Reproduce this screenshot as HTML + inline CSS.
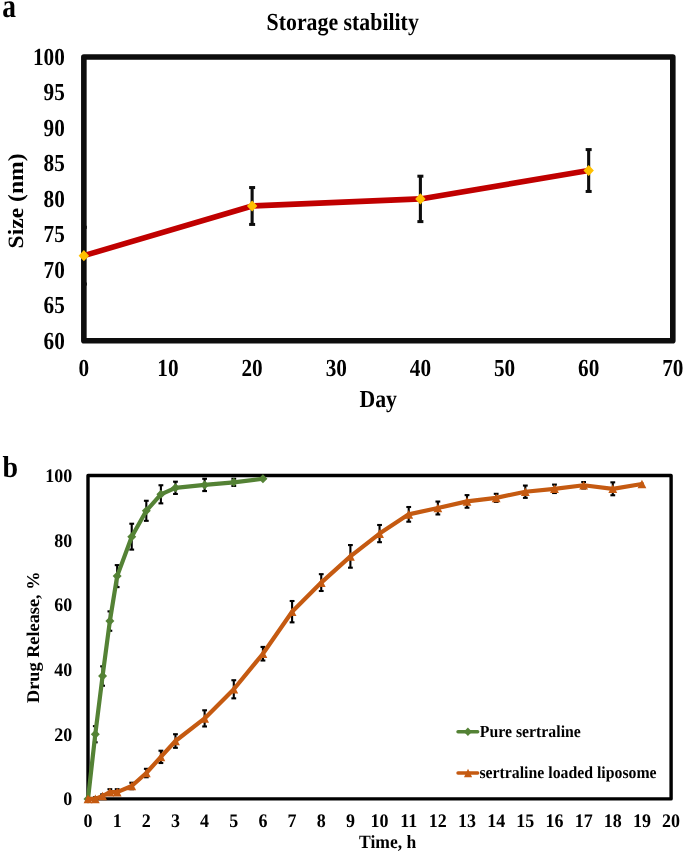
<!DOCTYPE html>
<html><head><meta charset="utf-8"><style>
html,body{margin:0;padding:0;background:#fff;width:685px;height:854px;overflow:hidden}
svg{display:block;will-change:transform}
.a{font-family:"Liberation Serif",serif;font-weight:bold;fill:#000;text-rendering:geometricPrecision}
</style></head><body>
<svg width="685" height="854" viewBox="0 0 685 854">
<rect x="83.85" y="57.0" width="588.95" height="283.80" fill="none" stroke="#0d0d0d" stroke-width="5.6" stroke-linejoin="round"/>
<polyline fill="none" stroke="#c00000" stroke-width="5.6" stroke-linejoin="round" points="83.85,255.66 252.12,206.00 420.39,198.90 588.66,170.52"/>
<line x1="83.85" y1="227.28" x2="83.85" y2="284.04" stroke="#0d0d0d" stroke-width="3.1"/>
<line x1="83.85" y1="227.28" x2="86.85" y2="227.28" stroke="#0d0d0d" stroke-width="3"/>
<line x1="83.85" y1="284.04" x2="86.85" y2="284.04" stroke="#0d0d0d" stroke-width="3"/>
<line x1="252.12" y1="187.55" x2="252.12" y2="224.44" stroke="#0d0d0d" stroke-width="3.1"/>
<line x1="249.12" y1="187.55" x2="255.12" y2="187.55" stroke="#0d0d0d" stroke-width="3"/>
<line x1="249.12" y1="224.44" x2="255.12" y2="224.44" stroke="#0d0d0d" stroke-width="3"/>
<line x1="420.39" y1="176.20" x2="420.39" y2="221.60" stroke="#0d0d0d" stroke-width="3.1"/>
<line x1="417.39" y1="176.20" x2="423.39" y2="176.20" stroke="#0d0d0d" stroke-width="3"/>
<line x1="417.39" y1="221.60" x2="423.39" y2="221.60" stroke="#0d0d0d" stroke-width="3"/>
<line x1="588.66" y1="149.59" x2="588.66" y2="191.45" stroke="#0d0d0d" stroke-width="3.1"/>
<line x1="585.66" y1="149.59" x2="591.66" y2="149.59" stroke="#0d0d0d" stroke-width="3"/>
<line x1="585.66" y1="191.45" x2="591.66" y2="191.45" stroke="#0d0d0d" stroke-width="3"/>
<polygon fill="#ffc000" points="83.85,250.06 89.05,255.66 83.85,261.26 78.65,255.66"/>
<polygon fill="#ffc000" points="252.12,200.40 257.32,206.00 252.12,211.59 246.92,206.00"/>
<polygon fill="#ffc000" points="420.39,193.30 425.59,198.90 420.39,204.50 415.19,198.90"/>
<polygon fill="#ffc000" points="588.66,164.92 593.86,170.52 588.66,176.12 583.46,170.52"/>
<text class="a" transform="translate(64.8 348.80) scale(0.867 1)" text-anchor="end" font-size="24.5">60</text>
<text class="a" transform="translate(64.8 313.32) scale(0.867 1)" text-anchor="end" font-size="24.5">65</text>
<text class="a" transform="translate(64.8 277.85) scale(0.867 1)" text-anchor="end" font-size="24.5">70</text>
<text class="a" transform="translate(64.8 242.38) scale(0.867 1)" text-anchor="end" font-size="24.5">75</text>
<text class="a" transform="translate(64.8 206.90) scale(0.867 1)" text-anchor="end" font-size="24.5">80</text>
<text class="a" transform="translate(64.8 171.43) scale(0.867 1)" text-anchor="end" font-size="24.5">85</text>
<text class="a" transform="translate(64.8 135.95) scale(0.867 1)" text-anchor="end" font-size="24.5">90</text>
<text class="a" transform="translate(64.8 100.48) scale(0.867 1)" text-anchor="end" font-size="24.5">95</text>
<text class="a" transform="translate(64.8 65.00) scale(0.867 1)" text-anchor="end" font-size="24.5">100</text>
<text class="a" transform="translate(83.85 376) scale(0.867 1)" text-anchor="middle" font-size="24.5">0</text>
<text class="a" transform="translate(167.99 376) scale(0.867 1)" text-anchor="middle" font-size="24.5">10</text>
<text class="a" transform="translate(252.12 376) scale(0.867 1)" text-anchor="middle" font-size="24.5">20</text>
<text class="a" transform="translate(336.26 376) scale(0.867 1)" text-anchor="middle" font-size="24.5">30</text>
<text class="a" transform="translate(420.39 376) scale(0.867 1)" text-anchor="middle" font-size="24.5">40</text>
<text class="a" transform="translate(504.53 376) scale(0.867 1)" text-anchor="middle" font-size="24.5">50</text>
<text class="a" transform="translate(588.66 376) scale(0.867 1)" text-anchor="middle" font-size="24.5">60</text>
<text class="a" transform="translate(672.80 376) scale(0.867 1)" text-anchor="middle" font-size="24.5">70</text>
<text class="a" transform="translate(378.2 407.2) scale(0.891 1)" text-anchor="middle" font-size="24.5">Day</text>
<text class="a" transform="translate(342.7 29.6) scale(0.891 1)" text-anchor="middle" font-size="24.5">Storage stability</text>
<text class="a" transform="translate(22.9 200.9) rotate(-90) scale(1 0.925)" text-anchor="middle" font-size="23.6">Size (nm)</text>
<text class="a" transform="translate(2.2 16.6) scale(0.82 1)" font-size="33.5">a</text>
<rect x="88.0" y="475.55" width="583.10" height="323.35" fill="none" stroke="#000" stroke-width="3.4" stroke-linejoin="round"/>
<line x1="95.29" y1="726.15" x2="95.29" y2="742.31" stroke="#000" stroke-width="2.1"/>
<line x1="92.89" y1="726.15" x2="97.69" y2="726.15" stroke="#000" stroke-width="2.1"/>
<line x1="92.89" y1="742.31" x2="97.69" y2="742.31" stroke="#000" stroke-width="2.1"/>
<line x1="102.58" y1="666.33" x2="102.58" y2="685.73" stroke="#000" stroke-width="2.1"/>
<line x1="100.18" y1="666.33" x2="104.98" y2="666.33" stroke="#000" stroke-width="2.1"/>
<line x1="100.18" y1="685.73" x2="104.98" y2="685.73" stroke="#000" stroke-width="2.1"/>
<line x1="109.87" y1="611.36" x2="109.87" y2="630.76" stroke="#000" stroke-width="2.1"/>
<line x1="107.47" y1="611.36" x2="112.27" y2="611.36" stroke="#000" stroke-width="2.1"/>
<line x1="107.47" y1="630.76" x2="112.27" y2="630.76" stroke="#000" stroke-width="2.1"/>
<line x1="117.16" y1="565.12" x2="117.16" y2="587.11" stroke="#000" stroke-width="2.1"/>
<line x1="114.75" y1="565.12" x2="119.56" y2="565.12" stroke="#000" stroke-width="2.1"/>
<line x1="114.75" y1="587.11" x2="119.56" y2="587.11" stroke="#000" stroke-width="2.1"/>
<line x1="131.73" y1="523.73" x2="131.73" y2="549.60" stroke="#000" stroke-width="2.1"/>
<line x1="129.33" y1="523.73" x2="134.13" y2="523.73" stroke="#000" stroke-width="2.1"/>
<line x1="129.33" y1="549.60" x2="134.13" y2="549.60" stroke="#000" stroke-width="2.1"/>
<line x1="146.31" y1="500.77" x2="146.31" y2="520.82" stroke="#000" stroke-width="2.1"/>
<line x1="143.91" y1="500.77" x2="148.71" y2="500.77" stroke="#000" stroke-width="2.1"/>
<line x1="143.91" y1="520.82" x2="148.71" y2="520.82" stroke="#000" stroke-width="2.1"/>
<line x1="160.89" y1="485.25" x2="160.89" y2="503.36" stroke="#000" stroke-width="2.1"/>
<line x1="158.49" y1="485.25" x2="163.29" y2="485.25" stroke="#000" stroke-width="2.1"/>
<line x1="158.49" y1="503.36" x2="163.29" y2="503.36" stroke="#000" stroke-width="2.1"/>
<line x1="175.47" y1="481.69" x2="175.47" y2="493.98" stroke="#000" stroke-width="2.1"/>
<line x1="173.06" y1="481.69" x2="177.87" y2="481.69" stroke="#000" stroke-width="2.1"/>
<line x1="173.06" y1="493.98" x2="177.87" y2="493.98" stroke="#000" stroke-width="2.1"/>
<line x1="204.62" y1="478.78" x2="204.62" y2="491.07" stroke="#000" stroke-width="2.1"/>
<line x1="202.22" y1="478.78" x2="207.02" y2="478.78" stroke="#000" stroke-width="2.1"/>
<line x1="202.22" y1="491.07" x2="207.02" y2="491.07" stroke="#000" stroke-width="2.1"/>
<line x1="233.78" y1="478.78" x2="233.78" y2="485.90" stroke="#000" stroke-width="2.1"/>
<line x1="231.38" y1="478.78" x2="236.18" y2="478.78" stroke="#000" stroke-width="2.1"/>
<line x1="231.38" y1="485.90" x2="236.18" y2="485.90" stroke="#000" stroke-width="2.1"/>
<polyline fill="none" stroke="#548235" stroke-width="4.2" stroke-linejoin="round" stroke-linecap="round" points="88.00,798.90 95.29,734.23 102.58,676.03 109.87,621.06 117.16,576.11 131.73,536.66 146.31,510.80 160.89,494.30 175.47,487.84 204.62,484.93 233.78,482.34 262.93,478.78"/>
<polygon fill="#548235" points="88.00,794.40 92.50,798.90 88.00,803.40 83.50,798.90"/>
<polygon fill="#548235" points="95.29,729.73 99.79,734.23 95.29,738.73 90.79,734.23"/>
<polygon fill="#548235" points="102.58,671.53 107.08,676.03 102.58,680.53 98.08,676.03"/>
<polygon fill="#548235" points="109.87,616.56 114.37,621.06 109.87,625.56 105.37,621.06"/>
<polygon fill="#548235" points="117.16,571.61 121.66,576.11 117.16,580.61 112.66,576.11"/>
<polygon fill="#548235" points="131.73,532.16 136.23,536.66 131.73,541.16 127.23,536.66"/>
<polygon fill="#548235" points="146.31,506.30 150.81,510.80 146.31,515.30 141.81,510.80"/>
<polygon fill="#548235" points="160.89,489.80 165.39,494.30 160.89,498.80 156.39,494.30"/>
<polygon fill="#548235" points="175.47,483.34 179.97,487.84 175.47,492.34 170.97,487.84"/>
<polygon fill="#548235" points="204.62,480.43 209.12,484.93 204.62,489.43 200.12,484.93"/>
<polygon fill="#548235" points="233.78,477.84 238.28,482.34 233.78,486.84 229.28,482.34"/>
<polygon fill="#548235" points="262.93,474.28 267.43,478.78 262.93,483.28 258.43,478.78"/>
<line x1="95.29" y1="797.28" x2="95.29" y2="800.52" stroke="#000" stroke-width="2.1"/>
<line x1="92.89" y1="797.28" x2="97.69" y2="797.28" stroke="#000" stroke-width="2.1"/>
<line x1="92.89" y1="800.52" x2="97.69" y2="800.52" stroke="#000" stroke-width="2.1"/>
<line x1="102.58" y1="794.37" x2="102.58" y2="797.61" stroke="#000" stroke-width="2.1"/>
<line x1="100.18" y1="794.37" x2="104.98" y2="794.37" stroke="#000" stroke-width="2.1"/>
<line x1="100.18" y1="797.61" x2="104.98" y2="797.61" stroke="#000" stroke-width="2.1"/>
<line x1="109.87" y1="789.20" x2="109.87" y2="795.02" stroke="#000" stroke-width="2.1"/>
<line x1="107.47" y1="789.20" x2="112.27" y2="789.20" stroke="#000" stroke-width="2.1"/>
<line x1="107.47" y1="795.02" x2="112.27" y2="795.02" stroke="#000" stroke-width="2.1"/>
<line x1="117.16" y1="789.20" x2="117.16" y2="795.02" stroke="#000" stroke-width="2.1"/>
<line x1="114.75" y1="789.20" x2="119.56" y2="789.20" stroke="#000" stroke-width="2.1"/>
<line x1="114.75" y1="795.02" x2="119.56" y2="795.02" stroke="#000" stroke-width="2.1"/>
<line x1="131.73" y1="782.73" x2="131.73" y2="789.20" stroke="#000" stroke-width="2.1"/>
<line x1="129.33" y1="782.73" x2="134.13" y2="782.73" stroke="#000" stroke-width="2.1"/>
<line x1="129.33" y1="789.20" x2="134.13" y2="789.20" stroke="#000" stroke-width="2.1"/>
<line x1="146.31" y1="768.83" x2="146.31" y2="777.24" stroke="#000" stroke-width="2.1"/>
<line x1="143.91" y1="768.83" x2="148.71" y2="768.83" stroke="#000" stroke-width="2.1"/>
<line x1="143.91" y1="777.24" x2="148.71" y2="777.24" stroke="#000" stroke-width="2.1"/>
<line x1="160.89" y1="750.72" x2="160.89" y2="763.01" stroke="#000" stroke-width="2.1"/>
<line x1="158.49" y1="750.72" x2="163.29" y2="750.72" stroke="#000" stroke-width="2.1"/>
<line x1="158.49" y1="763.01" x2="163.29" y2="763.01" stroke="#000" stroke-width="2.1"/>
<line x1="175.47" y1="734.23" x2="175.47" y2="747.81" stroke="#000" stroke-width="2.1"/>
<line x1="173.06" y1="734.23" x2="177.87" y2="734.23" stroke="#000" stroke-width="2.1"/>
<line x1="173.06" y1="747.81" x2="177.87" y2="747.81" stroke="#000" stroke-width="2.1"/>
<line x1="204.62" y1="710.30" x2="204.62" y2="726.47" stroke="#000" stroke-width="2.1"/>
<line x1="202.22" y1="710.30" x2="207.02" y2="710.30" stroke="#000" stroke-width="2.1"/>
<line x1="202.22" y1="726.47" x2="207.02" y2="726.47" stroke="#000" stroke-width="2.1"/>
<line x1="233.78" y1="680.23" x2="233.78" y2="698.34" stroke="#000" stroke-width="2.1"/>
<line x1="231.38" y1="680.23" x2="236.18" y2="680.23" stroke="#000" stroke-width="2.1"/>
<line x1="231.38" y1="698.34" x2="236.18" y2="698.34" stroke="#000" stroke-width="2.1"/>
<line x1="262.93" y1="646.93" x2="262.93" y2="660.51" stroke="#000" stroke-width="2.1"/>
<line x1="260.53" y1="646.93" x2="265.33" y2="646.93" stroke="#000" stroke-width="2.1"/>
<line x1="260.53" y1="660.51" x2="265.33" y2="660.51" stroke="#000" stroke-width="2.1"/>
<line x1="292.09" y1="601.01" x2="292.09" y2="622.35" stroke="#000" stroke-width="2.1"/>
<line x1="289.69" y1="601.01" x2="294.49" y2="601.01" stroke="#000" stroke-width="2.1"/>
<line x1="289.69" y1="622.35" x2="294.49" y2="622.35" stroke="#000" stroke-width="2.1"/>
<line x1="321.24" y1="574.17" x2="321.24" y2="590.99" stroke="#000" stroke-width="2.1"/>
<line x1="318.84" y1="574.17" x2="323.64" y2="574.17" stroke="#000" stroke-width="2.1"/>
<line x1="318.84" y1="590.99" x2="323.64" y2="590.99" stroke="#000" stroke-width="2.1"/>
<line x1="350.40" y1="545.07" x2="350.40" y2="567.70" stroke="#000" stroke-width="2.1"/>
<line x1="348.00" y1="545.07" x2="352.80" y2="545.07" stroke="#000" stroke-width="2.1"/>
<line x1="348.00" y1="567.70" x2="352.80" y2="567.70" stroke="#000" stroke-width="2.1"/>
<line x1="379.55" y1="524.99" x2="379.55" y2="542.19" stroke="#000" stroke-width="2.1"/>
<line x1="377.15" y1="524.99" x2="381.95" y2="524.99" stroke="#000" stroke-width="2.1"/>
<line x1="377.15" y1="542.19" x2="381.95" y2="542.19" stroke="#000" stroke-width="2.1"/>
<line x1="408.71" y1="507.01" x2="408.71" y2="521.69" stroke="#000" stroke-width="2.1"/>
<line x1="406.31" y1="507.01" x2="411.11" y2="507.01" stroke="#000" stroke-width="2.1"/>
<line x1="406.31" y1="521.69" x2="411.11" y2="521.69" stroke="#000" stroke-width="2.1"/>
<line x1="437.86" y1="501.55" x2="437.86" y2="514.48" stroke="#000" stroke-width="2.1"/>
<line x1="435.46" y1="501.55" x2="440.26" y2="501.55" stroke="#000" stroke-width="2.1"/>
<line x1="435.46" y1="514.48" x2="440.26" y2="514.48" stroke="#000" stroke-width="2.1"/>
<line x1="467.01" y1="495.11" x2="467.01" y2="507.72" stroke="#000" stroke-width="2.1"/>
<line x1="464.62" y1="495.11" x2="469.41" y2="495.11" stroke="#000" stroke-width="2.1"/>
<line x1="464.62" y1="507.72" x2="469.41" y2="507.72" stroke="#000" stroke-width="2.1"/>
<line x1="496.17" y1="493.82" x2="496.17" y2="501.90" stroke="#000" stroke-width="2.1"/>
<line x1="493.77" y1="493.82" x2="498.57" y2="493.82" stroke="#000" stroke-width="2.1"/>
<line x1="493.77" y1="501.90" x2="498.57" y2="501.90" stroke="#000" stroke-width="2.1"/>
<line x1="525.33" y1="485.57" x2="525.33" y2="497.86" stroke="#000" stroke-width="2.1"/>
<line x1="522.93" y1="485.57" x2="527.73" y2="485.57" stroke="#000" stroke-width="2.1"/>
<line x1="522.93" y1="497.86" x2="527.73" y2="497.86" stroke="#000" stroke-width="2.1"/>
<line x1="554.48" y1="484.60" x2="554.48" y2="493.01" stroke="#000" stroke-width="2.1"/>
<line x1="552.08" y1="484.60" x2="556.88" y2="484.60" stroke="#000" stroke-width="2.1"/>
<line x1="552.08" y1="493.01" x2="556.88" y2="493.01" stroke="#000" stroke-width="2.1"/>
<line x1="583.63" y1="482.02" x2="583.63" y2="488.48" stroke="#000" stroke-width="2.1"/>
<line x1="581.24" y1="482.02" x2="586.03" y2="482.02" stroke="#000" stroke-width="2.1"/>
<line x1="581.24" y1="488.48" x2="586.03" y2="488.48" stroke="#000" stroke-width="2.1"/>
<line x1="612.79" y1="482.34" x2="612.79" y2="495.27" stroke="#000" stroke-width="2.1"/>
<line x1="610.39" y1="482.34" x2="615.19" y2="482.34" stroke="#000" stroke-width="2.1"/>
<line x1="610.39" y1="495.27" x2="615.19" y2="495.27" stroke="#000" stroke-width="2.1"/>
<polyline fill="none" stroke="#c55a11" stroke-width="4.2" stroke-linejoin="round" stroke-linecap="round" points="88.00,798.90 95.29,798.90 102.58,795.99 109.87,792.11 117.16,792.11 131.73,785.97 146.31,773.03 160.89,756.86 175.47,741.02 204.62,718.39 233.78,689.28 262.93,653.72 292.09,611.68 321.24,582.58 350.40,556.39 379.55,533.59 408.71,514.35 437.86,508.01 467.01,501.42 496.17,497.86 525.33,491.72 554.48,488.81 583.63,485.25 612.79,488.81 641.94,483.96"/>
<polygon fill="#c55a11" points="88.00,794.60 92.40,803.20 83.60,803.20"/>
<polygon fill="#c55a11" points="95.29,794.60 99.69,803.20 90.89,803.20"/>
<polygon fill="#c55a11" points="102.58,791.69 106.98,800.29 98.18,800.29"/>
<polygon fill="#c55a11" points="109.87,787.81 114.27,796.41 105.47,796.41"/>
<polygon fill="#c55a11" points="117.16,787.81 121.56,796.41 112.75,796.41"/>
<polygon fill="#c55a11" points="131.73,781.67 136.13,790.27 127.33,790.27"/>
<polygon fill="#c55a11" points="146.31,768.73 150.71,777.33 141.91,777.33"/>
<polygon fill="#c55a11" points="160.89,752.56 165.29,761.16 156.49,761.16"/>
<polygon fill="#c55a11" points="175.47,736.72 179.87,745.32 171.06,745.32"/>
<polygon fill="#c55a11" points="204.62,714.09 209.02,722.69 200.22,722.69"/>
<polygon fill="#c55a11" points="233.78,684.98 238.18,693.58 229.38,693.58"/>
<polygon fill="#c55a11" points="262.93,649.42 267.33,658.02 258.53,658.02"/>
<polygon fill="#c55a11" points="292.09,607.38 296.49,615.98 287.69,615.98"/>
<polygon fill="#c55a11" points="321.24,578.28 325.64,586.88 316.84,586.88"/>
<polygon fill="#c55a11" points="350.40,552.09 354.80,560.69 346.00,560.69"/>
<polygon fill="#c55a11" points="379.55,529.29 383.95,537.89 375.15,537.89"/>
<polygon fill="#c55a11" points="408.71,510.05 413.11,518.65 404.31,518.65"/>
<polygon fill="#c55a11" points="437.86,503.71 442.26,512.31 433.46,512.31"/>
<polygon fill="#c55a11" points="467.01,497.12 471.41,505.72 462.62,505.72"/>
<polygon fill="#c55a11" points="496.17,493.56 500.57,502.16 491.77,502.16"/>
<polygon fill="#c55a11" points="525.33,487.42 529.73,496.02 520.93,496.02"/>
<polygon fill="#c55a11" points="554.48,484.51 558.88,493.11 550.08,493.11"/>
<polygon fill="#c55a11" points="583.63,480.95 588.03,489.55 579.24,489.55"/>
<polygon fill="#c55a11" points="612.79,484.51 617.19,493.11 608.39,493.11"/>
<polygon fill="#c55a11" points="641.94,479.66 646.34,488.26 637.54,488.26"/>
<text class="a" transform="translate(72.3 805.40) scale(0.9375 1)" text-anchor="end" font-size="19.2">0</text>
<text class="a" transform="translate(72.3 740.73) scale(0.9375 1)" text-anchor="end" font-size="19.2">20</text>
<text class="a" transform="translate(72.3 676.06) scale(0.9375 1)" text-anchor="end" font-size="19.2">40</text>
<text class="a" transform="translate(72.3 611.39) scale(0.9375 1)" text-anchor="end" font-size="19.2">60</text>
<text class="a" transform="translate(72.3 546.72) scale(0.9375 1)" text-anchor="end" font-size="19.2">80</text>
<text class="a" transform="translate(72.3 482.05) scale(0.9375 1)" text-anchor="end" font-size="19.2">100</text>
<text class="a" transform="translate(88.00 827.3) scale(0.9375 1)" text-anchor="middle" font-size="19.2">0</text>
<text class="a" transform="translate(117.16 827.3) scale(0.9375 1)" text-anchor="middle" font-size="19.2">1</text>
<text class="a" transform="translate(146.31 827.3) scale(0.9375 1)" text-anchor="middle" font-size="19.2">2</text>
<text class="a" transform="translate(175.47 827.3) scale(0.9375 1)" text-anchor="middle" font-size="19.2">3</text>
<text class="a" transform="translate(204.62 827.3) scale(0.9375 1)" text-anchor="middle" font-size="19.2">4</text>
<text class="a" transform="translate(233.78 827.3) scale(0.9375 1)" text-anchor="middle" font-size="19.2">5</text>
<text class="a" transform="translate(262.93 827.3) scale(0.9375 1)" text-anchor="middle" font-size="19.2">6</text>
<text class="a" transform="translate(292.09 827.3) scale(0.9375 1)" text-anchor="middle" font-size="19.2">7</text>
<text class="a" transform="translate(321.24 827.3) scale(0.9375 1)" text-anchor="middle" font-size="19.2">8</text>
<text class="a" transform="translate(350.40 827.3) scale(0.9375 1)" text-anchor="middle" font-size="19.2">9</text>
<text class="a" transform="translate(379.55 827.3) scale(0.9375 1)" text-anchor="middle" font-size="19.2">10</text>
<text class="a" transform="translate(408.71 827.3) scale(0.9375 1)" text-anchor="middle" font-size="19.2">11</text>
<text class="a" transform="translate(437.86 827.3) scale(0.9375 1)" text-anchor="middle" font-size="19.2">12</text>
<text class="a" transform="translate(467.01 827.3) scale(0.9375 1)" text-anchor="middle" font-size="19.2">13</text>
<text class="a" transform="translate(496.17 827.3) scale(0.9375 1)" text-anchor="middle" font-size="19.2">14</text>
<text class="a" transform="translate(525.33 827.3) scale(0.9375 1)" text-anchor="middle" font-size="19.2">15</text>
<text class="a" transform="translate(554.48 827.3) scale(0.9375 1)" text-anchor="middle" font-size="19.2">16</text>
<text class="a" transform="translate(583.63 827.3) scale(0.9375 1)" text-anchor="middle" font-size="19.2">17</text>
<text class="a" transform="translate(612.79 827.3) scale(0.9375 1)" text-anchor="middle" font-size="19.2">18</text>
<text class="a" transform="translate(641.94 827.3) scale(0.9375 1)" text-anchor="middle" font-size="19.2">19</text>
<text class="a" transform="translate(671.10 827.3) scale(0.9375 1)" text-anchor="middle" font-size="19.2">20</text>
<text class="a" transform="translate(387.6 848.2) scale(0.935 1)" text-anchor="middle" font-size="18.8">Time, h</text>
<text class="a" transform="translate(39.4 637.3) rotate(-90) scale(1 0.98)" text-anchor="middle" font-size="18.3">Drug Release, %</text>
<text class="a" transform="translate(2.6 476.6) scale(0.92 1)" font-size="30.4">b</text>
<line x1="458" y1="731.7" x2="477.7" y2="731.7" stroke="#548235" stroke-width="3.4" stroke-linecap="round"/>
<polygon fill="#548235" points="467.9,727.6 472,731.7 467.9,735.9 463.8,731.7"/>
<text class="a" transform="translate(479.8 737.1) scale(0.935 1)" font-size="16.9">Pure sertraline</text>
<line x1="458" y1="773" x2="477.7" y2="773" stroke="#c55a11" stroke-width="3.4" stroke-linecap="round"/>
<polygon fill="#c55a11" points="468,768.8 472.1,777.2 464,777.2"/>
<text class="a" transform="translate(479.4 777.7) scale(0.935 1)" font-size="16.9">sertraline loaded liposome</text>
</svg>
</body></html>
